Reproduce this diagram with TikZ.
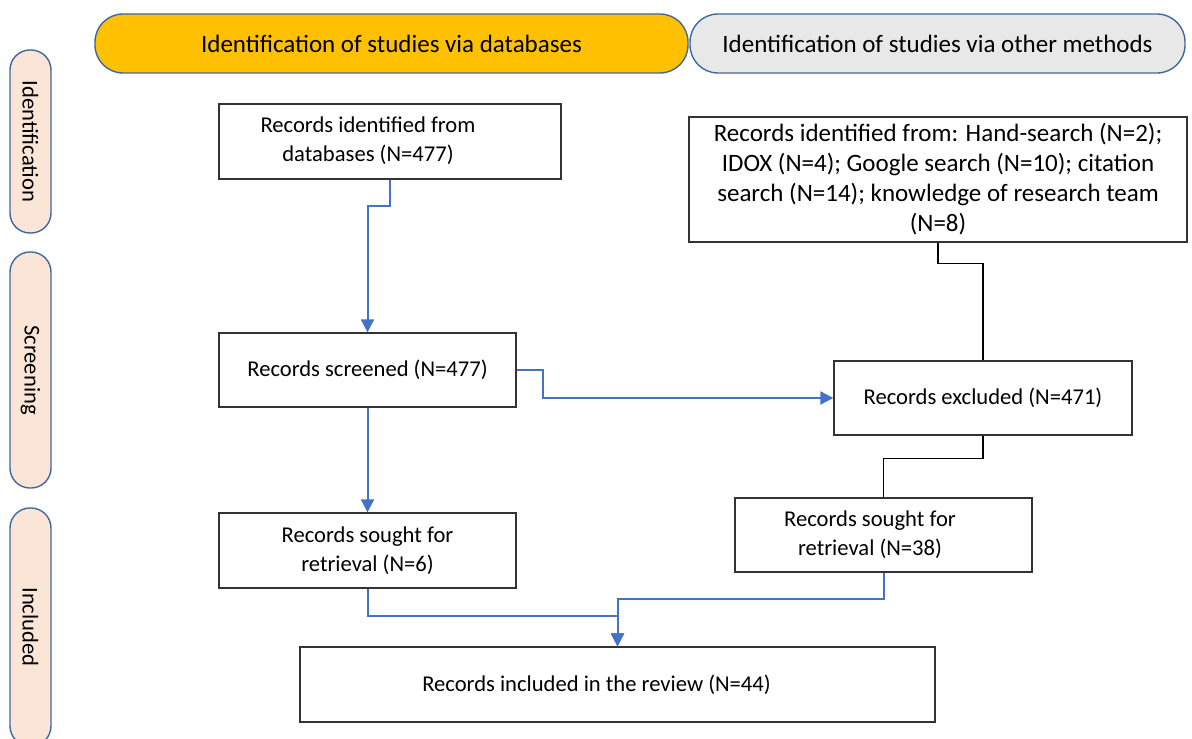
\documentclass[tikz,border=0pt]{standalone}
\usepackage{fontspec}
\setmainfont{Carlito}
\usetikzlibrary{arrows.meta}
\definecolor{hdryellow}{HTML}{FFC000}
\definecolor{hdrgray}{HTML}{E9E8E8}
\definecolor{pillfill}{HTML}{FBE5D6}
\definecolor{outline}{HTML}{41689E}
\definecolor{flowblue}{HTML}{4472C4}
\tikzset{
  header/.style={draw=outline, line width=0.7pt, rounded corners=14pt, minimum height=29.5pt,
    font=\fontsize{12.5}{15}\selectfont, inner sep=0pt},
  pill/.style={draw=outline, line width=0.7pt, fill=pillfill, rounded corners=10pt, minimum width=20.5pt,
    inner sep=0pt},
  pilltext/.style={rotate=-90, font=\fontsize{11.3}{13}\selectfont, inner sep=0pt},
  box/.style={draw=black!80, line width=0.65pt, fill=white, minimum height=37.5pt, align=center,
    font=\fontsize{11.3}{14.5}\selectfont, inner sep=0pt},
  bigbox/.style={box, font=\fontsize{12.5}{15}\selectfont},
  bluearrow/.style={draw=flowblue, line width=1pt, -{Triangle[length=6.5pt,width=6.5pt]}},
  blackline/.style={draw=black, line width=0.7pt}
}
\begin{document}
\begin{tikzpicture}[x=0.5pt, y=-0.5pt]
\useasboundingbox (0,0) rectangle (1192,738);
\fill[white] (0,0) rectangle (1192,738);
\clip (0,0) rectangle (1192,738);

% headers
\node[header, fill=hdryellow, minimum width=296.5pt] (h1) at (391.5,43.5) {Identification of studies via databases};
\node[header, fill=hdrgray, minimum width=247.5pt] (h2) at (937.5,43.5) {Identification of studies via other methods};

% side pills
\node[pill, minimum height=91.5pt] (p1) at (30.5,141.5) {};
\node[pilltext] (t1) at (p1.center) {Identification};
\node[pill, minimum height=118pt] (p2) at (30.5,370) {};
\node[pilltext] (t2) at (p2.center) {Screening};
\node[pill, minimum height=119pt] (p3) at (30.5,627) {};
\node[pilltext] (t3) at (p3.center) {Included};

% boxes
\node[box, minimum width=171pt] (A) at (390,141.5) {\begin{tabular}{@{}c@{}}Records identified from\\databases (N=477)\end{tabular}\hspace*{22pt}};
\node[box, minimum width=148.5pt, minimum height=37pt] (B) at (367.5,370) {Records screened (N=477)};
\node[bigbox, minimum width=249pt, minimum height=62.5pt] (C) at (938,179.5)
  {Records identified from: Hand-search (N=2);\\IDOX (N=4); Google search (N=10); citation\\search (N=14); knowledge of research team\\(N=8)};
\node[box, minimum width=149pt, minimum height=37pt] (D) at (983,398) {Records excluded (N=471)};
\node[box, minimum width=148.5pt, minimum height=37pt] (E) at (883.5,535) {\begin{tabular}{@{}c@{}}Records sought for\\retrieval (N=38)\end{tabular}\hspace*{13.5pt}};
\node[box, minimum width=148.5pt] (F) at (367.5,550.5) {Records sought for\\retrieval (N=6)};
\node[box, minimum width=317.5pt] (G) at (617.5,684.5) {Records included in the review (N=44)\hspace*{21pt}};

% connectors
\draw[bluearrow] (A.south) -- ++(0,26) -| (B.north);
\draw[bluearrow] (B.east) -- ++(26,0) |- (D.west);
\draw[bluearrow] (B.south) -- (F.north);
\draw[blackline] (C.south) -- ++(0,21) -| (D.north);
\draw[blackline] (D.south) -- ++(0,23) -| (E.north);
\draw[bluearrow] (F.south) -- ++(0,27) -| (G.north);
\draw[bluearrow] (E.south) -- ++(0,26) -| (G.north);
\end{tikzpicture}
\end{document}
